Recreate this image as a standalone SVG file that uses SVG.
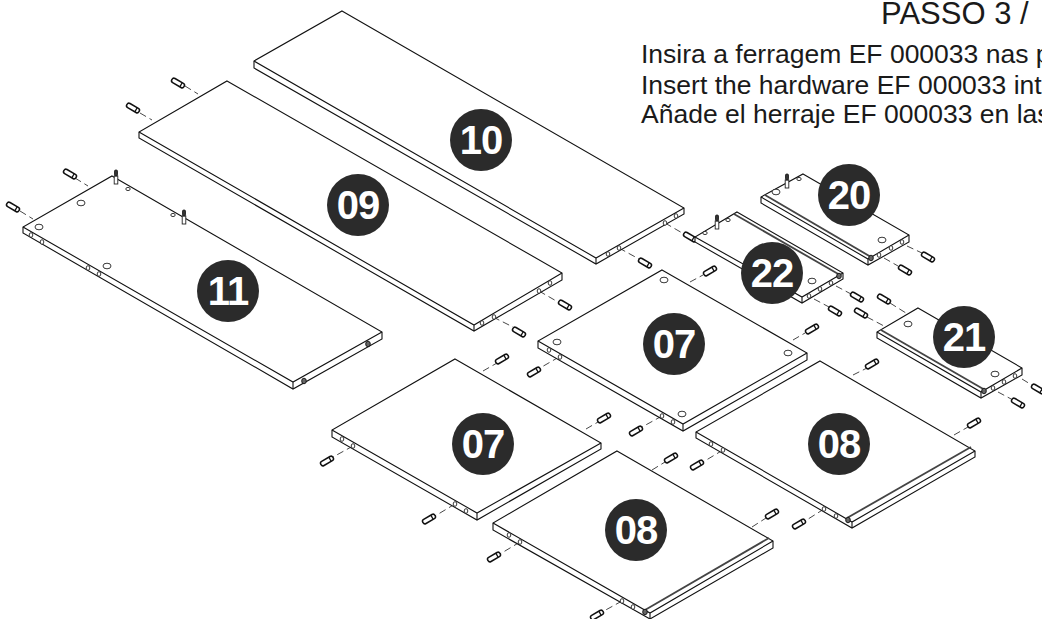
<svg xmlns="http://www.w3.org/2000/svg" width="1042" height="619" viewBox="0 0 1042 619">
<style>
.p{fill:#fff;stroke:#111;stroke-width:1.1;stroke-linejoin:miter}
.s{fill:none;stroke:#111;stroke-width:1.1}
.g{fill:none;stroke:#444;stroke-width:1.8}
.h{fill:#fff;stroke:#222;stroke-width:.9}
.d{fill:#666;stroke:#111;stroke-width:.9}
.c{fill:none;stroke:#333;stroke-width:.9;stroke-dasharray:7 4}
.b{fill:#2b2b2b}
.n{font:bold 40px "Liberation Sans",Arial,sans-serif;fill:#fff;text-anchor:middle;letter-spacing:-1px}
.t{font-family:"Liberation Sans",Arial,sans-serif;fill:#1a1a1a}
</style>
<defs>
<g id="pin"><rect x="-7" y="-2.4" width="14" height="4.8" rx="2.2" fill="#fff" stroke="#111" stroke-width="1.5"/><path d="M3.5-2.4V2.4" stroke="#111" stroke-width="1.2"/></g>
<g id="vp"><rect x="-1.8" y="-1" width="3.6" height="8" fill="#fff" stroke="#222" stroke-width=".9"/><rect x="-1.5" y="-7" width="3" height="6" rx="1.2" fill="#333" stroke="#111" stroke-width=".8"/></g>
<ellipse id="eh" rx="1.8" ry="2.3" class="h"/>
<ellipse id="ed" rx="2.3" ry="2.8" class="d"/>
<ellipse id="th" rx="4" ry="2.8" class="h"/>
<ellipse id="sh" rx="2.2" ry="1.6" class="h"/>
</defs>
<g id="title">
<text class="t" x="881" y="24" font-size="31">PASSO 3 /</text>
<text class="t" x="641" y="63" font-size="26.5">Insira a ferragem EF 000033 nas p</text>
<text class="t" x="641" y="94" font-size="26.5">Insert the hardware EF 000033 int</text>
<text class="t" x="641" y="123" font-size="26.5">Añade el herraje EF 000033 en las</text>
</g>
<g id="connectors">
<path class="c" d="M140 113L152 120M185 86L198 94M539 291L558 302M493 317L513 327M619 248L639 259M665 223L684 234M20 211L33 219M75 178L88 186M690 282L703 275M793 340L805 333M559 357L540 368M662 416L642 427M483 371L497 363M586 429L598 422M353 446L333 457M455 504L435 516M853 375L867 368M954 435L968 427M723 450L703 462M824 509L805 521M752 527L766 518M652 470L665 462M520 542L500 554M622 601L602 612M907 246L922 253M884 258L898 266M836 286L851 294M814 299L829 307M890 303L906 313M867 317L884 326M998 392L1013 400M1022 379L1035 387"/>
</g>
<g id="panel-10">
<path class="p" d="M342 11L684 208V214L596 264L254 68V61Z"/>
<path class="s" d="M254 61L596 258L684 208M596 258V264"/>
<use href="#eh" x="608" y="254"/><use href="#eh" x="619" y="248"/><use href="#eh" x="665" y="223"/><use href="#eh" x="676" y="216"/>
<use href="#pin" transform="translate(645 263) rotate(30)"/><use href="#pin" transform="translate(690 237) rotate(30)"/>
<circle class="b" cx="481" cy="140" r="31"/><text class="n" x="481" y="154">10</text>
</g>
<g id="panel-09">
<path class="p" d="M227 81L562 273V280L474 331L139 138V132Z"/>
<path class="s" d="M139 132L474 325L562 273M474 325V331"/>
<use href="#eh" x="482" y="323"/><use href="#eh" x="494" y="317"/><use href="#eh" x="539" y="291"/><use href="#eh" x="550" y="283"/>
<use href="#pin" transform="translate(133 108) rotate(30)"/><use href="#pin" transform="translate(178 83) rotate(30)"/>
<use href="#pin" transform="translate(565 305) rotate(30)"/><use href="#pin" transform="translate(519 332) rotate(30)"/>
<circle class="b" cx="358" cy="205" r="31"/><text class="n" x="358" y="219">09</text>
</g>
<g id="panel-11">
<path class="p" d="M112 176L382 332V339L293 389L23 233V227Z"/>
<path class="s" d="M23 227L293 382L382 332M293 382V389"/>
<use href="#th" x="39" y="227"/><use href="#th" x="81" y="203"/><use href="#th" x="107" y="266"/><use href="#sh" x="128" y="189"/><use href="#sh" x="173" y="215"/>
<use href="#eh" x="31" y="235"/><use href="#eh" x="42" y="242"/><use href="#eh" x="88" y="268"/><use href="#eh" x="99" y="274"/><use href="#ed" x="304" y="381"/><use href="#ed" x="368" y="344"/>
<use href="#vp" x="116" y="177"/><use href="#vp" x="184" y="217"/>
<use href="#pin" transform="translate(13 207) rotate(30)"/><use href="#pin" transform="translate(70 174) rotate(30)"/>
<circle class="b" cx="228" cy="291" r="31"/><text class="n" x="228" y="305">11</text>
</g>
<g id="panel-07a">
<path class="p" d="M662 270L807 353V360L683 431L538 348V341Z"/>
<path class="s" d="M538 341L683 424L807 353M683 424V431"/>
<use href="#th" x="664" y="280"/><use href="#th" x="557" y="342"/><use href="#th" x="682" y="414"/><use href="#th" x="788" y="353"/>
<use href="#eh" x="549" y="350"/><use href="#eh" x="560" y="357"/><use href="#eh" x="662" y="416"/><use href="#eh" x="673" y="422"/>
<use href="#pin" transform="translate(710 271) rotate(-30)"/><use href="#pin" transform="translate(812 329) rotate(-30)"/><use href="#pin" transform="translate(534 372) rotate(-30)"/><use href="#pin" transform="translate(636 431) rotate(-30)"/>
<circle class="b" cx="674" cy="344" r="31"/><text class="n" x="674" y="358">07</text>
</g>
<g id="panel-07b">
<path class="p" d="M455 359L601 443V449L477 520L332 437V430Z"/>
<path class="s" d="M332 430L477 513L601 443M477 513V520"/>
<use href="#eh" x="342" y="439"/><use href="#eh" x="353" y="446"/><use href="#eh" x="455" y="504"/><use href="#eh" x="466" y="511"/>
<use href="#pin" transform="translate(502 359) rotate(-30)"/><use href="#pin" transform="translate(604 418) rotate(-30)"/><use href="#pin" transform="translate(327 461) rotate(-30)"/><use href="#pin" transform="translate(429 519) rotate(-30)"/>
<circle class="b" cx="483" cy="444" r="31"/><text class="n" x="483" y="458">07</text>
</g>
<g id="panel-08a">
<path class="p" d="M820 361L975 451V457L852 528L696 438V432Z"/>
<path class="s" d="M696 432L852 522L975 451M852 522V528"/>
<path class="g" d="M847 518L971 447"/>
<use href="#eh" x="711" y="444"/><use href="#eh" x="723" y="450"/><use href="#eh" x="824" y="509"/><use href="#eh" x="836" y="516"/><use href="#ed" x="848" y="520"/>
<use href="#pin" transform="translate(872 364) rotate(-30)"/><use href="#pin" transform="translate(974 423) rotate(-30)"/><use href="#pin" transform="translate(697 465) rotate(-30)"/><use href="#pin" transform="translate(799 524) rotate(-30)"/>
<circle class="b" cx="839" cy="444" r="31"/><text class="n" x="839" y="458">08</text>
</g>
<g id="panel-08b">
<path class="p" d="M617 451L773 541V548L650 619L493 530V523Z"/>
<path class="s" d="M493 523L650 613L773 541M650 613V619"/>
<path class="g" d="M645 610L769 538"/>
<use href="#eh" x="509" y="535"/><use href="#eh" x="520" y="542"/><use href="#eh" x="622" y="601"/><use href="#eh" x="633" y="607"/><use href="#ed" x="645" y="612"/>
<use href="#pin" transform="translate(772 514) rotate(-30)"/><use href="#pin" transform="translate(671 458) rotate(-30)"/><use href="#pin" transform="translate(494 557) rotate(-30)"/><use href="#pin" transform="translate(597 615) rotate(-30)"/>
<circle class="b" cx="636" cy="530" r="31"/><text class="n" x="636" y="544">08</text>
</g>
<g id="panel-20">
<path class="p" d="M803 174L909 235V242L868 265L761 203V197Z"/>
<path class="s" d="M761 197L868 259L909 235M868 259V265"/>
<path class="g" d="M765 195L871 257"/>
<use href="#th" x="776" y="192"/><use href="#sh" x="799" y="179"/><use href="#th" x="882" y="240"/>
<use href="#eh" x="879" y="255"/><use href="#eh" x="891" y="248"/><use href="#eh" x="902" y="242"/><use href="#ed" x="871" y="258"/>
<use href="#vp" x="787" y="181"/>
<use href="#pin" transform="translate(928 257) rotate(30)"/><use href="#pin" transform="translate(905 270) rotate(30)"/>
<circle class="b" cx="849" cy="195" r="31"/><text class="n" x="849" y="209">20</text>
</g>
<g id="panel-22">
<path class="p" d="M737 212L843 273V279L802 303L695 242V237Z"/>
<path class="s" d="M695 237L802 297L843 273M802 297V303"/>
<path class="g" d="M734 214L840 275"/>
<use href="#sh" x="705" y="233"/><use href="#sh" x="728" y="220"/><use href="#th" x="812" y="281"/>
<use href="#eh" x="809" y="296"/><use href="#eh" x="820" y="289"/><use href="#eh" x="831" y="283"/><use href="#ed" x="839" y="276"/>
<use href="#vp" x="717" y="222"/>
<use href="#pin" transform="translate(857 297) rotate(30)"/><use href="#pin" transform="translate(835 311) rotate(30)"/>
<circle class="b" cx="772" cy="273" r="31"/><text class="n" x="772" y="287">22</text>
</g>
<g id="panel-21">
<path class="p" d="M918 308L1022 368V375L981 398L877 338V332Z"/>
<path class="s" d="M877 332L981 392L1022 368M981 392V398"/>
<path class="g" d="M881 330L985 390"/>
<use href="#th" x="908" y="324"/><use href="#th" x="995" y="374"/>
<use href="#eh" x="993" y="388"/><use href="#eh" x="1004" y="382"/><use href="#eh" x="1015" y="376"/><use href="#ed" x="984" y="391"/>
<use href="#pin" transform="translate(884 299) rotate(30)"/><use href="#pin" transform="translate(861 313) rotate(30)"/><use href="#pin" transform="translate(1018 403) rotate(30)"/><use href="#pin" transform="translate(1038 389) rotate(30)"/>
<circle class="b" cx="964" cy="337" r="31"/><text class="n" x="964" y="351">21</text>
</g>
</svg>
